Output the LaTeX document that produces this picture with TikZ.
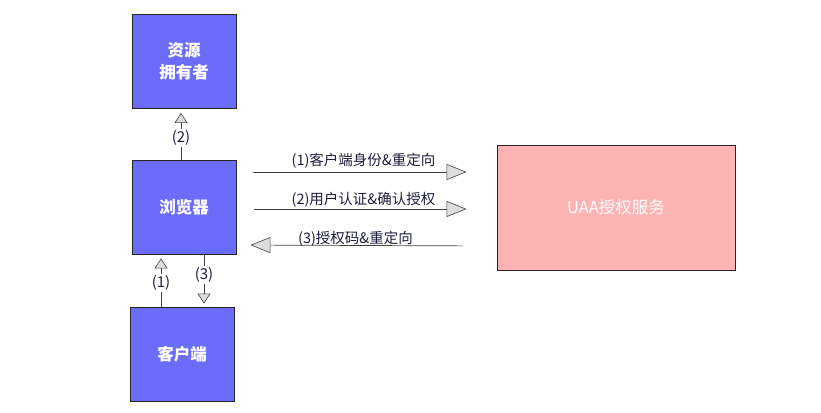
\documentclass[tikz,border=0pt]{standalone}
\usepackage{fontspec}
\setmainfont{Noto Sans CJK SC}
\usetikzlibrary{arrows.meta}
\definecolor{actorblue}{RGB}{108,108,250}
\definecolor{servicepink}{RGB}{255,180,180}
\definecolor{tipgray}{RGB}{221,221,221}
\definecolor{labelink}{RGB}{30,30,60}
\tikzset{
  actor/.style={draw=black!85, line width=0.9pt, fill=actorblue, minimum width=104pt,
    minimum height=94pt, text=white, font=\fontsize{16.5}{22}\selectfont\bfseries, align=center},
  service/.style={draw=black!85, line width=0.9pt, fill=servicepink, minimum width=238pt,
    minimum height=125pt, text=white!96!pink, font=\fontsize{16.5}{20}\selectfont},
  smallflow/.style={draw=black!75, line width=0.7pt,
    -{Triangle[length=10pt,width=13pt,fill=tipgray,line width=0.6pt]}},
  bigflow/.style={draw=black!75, line width=0.7pt,
    -{Triangle[length=20pt,width=16pt,fill=tipgray,line width=0.6pt]}},
  vlabel/.style={fill=white, inner sep=1.5pt, text=labelink, font=\fontsize{15}{17}\selectfont},
  hlabel/.style={inner sep=1pt, text=labelink, font=\fontsize{14.5}{16}\selectfont},
}
\begin{document}
\begin{tikzpicture}[x=1pt,y=-1pt]
  \useasboundingbox (0,0) rectangle (821,412);

  % participants
  \node[actor]   (owner)   at (184,61.5)  {资源\\拥有者};
  \node[actor]   (browser) at (184,207)   {浏览器};
  \node[actor]   (client)  at (182,354)   {客户端};
  \node[service] (uaa)     at (616,207.5) {UAA授权服务};

  % vertical flows
  \draw[smallflow, shorten >=4pt]
    ([xshift=-3pt]browser.north) -- node[vlabel, pos=0.42]{(2)} ([xshift=-3pt]owner.south);
  \draw[smallflow, shorten >=4pt]
    ([xshift=-21pt]client.north) -- node[vlabel, pos=0.45]{(1)} ([xshift=-23pt]browser.south);
  \draw[smallflow, shorten >=3pt]
    ([xshift=20pt]browser.south) -- node[vlabel, pos=0.4]{(3)} ([xshift=22pt]client.north);

  % horizontal flows
  \draw[bigflow, shorten <=17pt, shorten >=30pt]
    ([yshift=35pt]browser.east) -- node[hlabel, above=2pt, xshift=-3pt]{(1)客户端身份\&重定向} ([yshift=35.5pt]uaa.west);
  \draw[bigflow, shorten <=18pt, shorten >=30pt]
    ([yshift=-2pt]browser.east) -- node[hlabel, above=0pt, xshift=-3pt]{(2)用户认证\&确认授权} ([yshift=-1.5pt]uaa.west);
  \draw[bigflow, shorten <=34pt, shorten >=14pt]
    ([yshift=-38.5pt]uaa.west) -- node[hlabel, above=-2pt, xshift=-11pt]{(3)授权码\&重定向} ([yshift=-38pt]browser.east);
\end{tikzpicture}
\end{document}
